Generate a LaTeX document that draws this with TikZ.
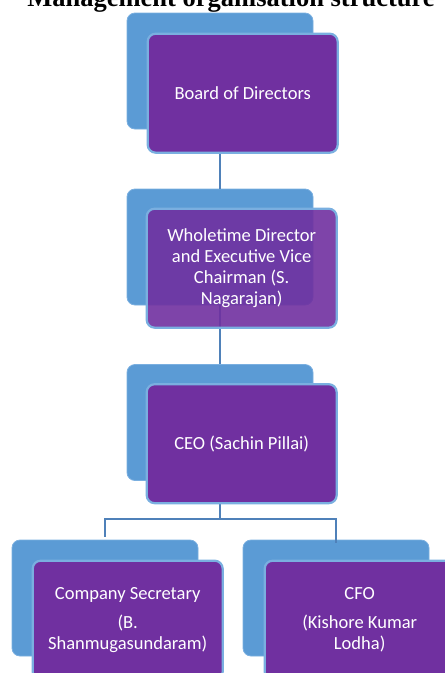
\documentclass[tikz,border=0pt]{standalone}
\usepackage{fontspec}
\setmainfont{Liberation Serif}
\newfontfamily\orgfont{Carlito}
\usepackage{tikz}
\usetikzlibrary{positioning}
\definecolor{oblue}{HTML}{5B9BD5}
\definecolor{oedge}{HTML}{7AAFE0}
\definecolor{opurple}{HTML}{7030A0}
\definecolor{olink}{HTML}{4F81B9}
\tikzset{
  oback/.style={rectangle, rounded corners=8pt, fill=oblue, draw=oedge,
                line width=0.8pt, minimum width=186pt, minimum height=116pt,
                inner sep=0pt},
  ofront/.style={rectangle, rounded corners=8pt, fill=opurple, draw=oedge,
                 line width=2.2pt, minimum width=190pt, minimum height=119pt,
                 inner sep=0pt, align=center, text=white,
                 font=\orgfont\fontsize{18.5}{21}\selectfont, anchor=north west},
  olinkstyle/.style={olink, line width=2.2pt},
  otitle/.style={font=\bfseries\fontsize{26.5}{30}\selectfont, anchor=base},
}
\begin{document}
\begin{tikzpicture}[x=1pt,y=-1pt]
  \useasboundingbox (0,0) rectangle (445,673);

  % ---- title ----
  \node[otitle] (title) at (231,6) {Management organisation structure};

  % ---- back cards ----
  \node[oback] (boardB) at (220,71) {};
  \node[oback] (wtdB) at (220,247) {};
  \node[oback] (ceoB) at (220,422.5) {};
  \node[oback] (csB) at (105,598) {};
  \node[oback] (cfoB) at (336,598) {};

  % ---- links ----
  \draw[olinkstyle] (boardB.south) -- (wtdB.north);
  \draw[olinkstyle] (wtdB.south) -- (ceoB.north);
  \draw[olinkstyle] (ceoB.south) -- ++(0,38) coordinate (fork);
  \draw[olinkstyle] (csB.north) ++(0,-3) |- (fork) -| ([yshift=-3pt]cfoB.north);

  % ---- front cards ----
  \node[ofront] (board) at ([shift={(20,20)}]boardB.north west)
    {Board of Directors};
  \node[ofront, fill opacity=0.9, text opacity=1] (wtd)
    at ([shift={(19,19)}]wtdB.north west)
    {Wholetime Director\\and Executive Vice\\Chairman (S.\\Nagarajan)};
  \node[ofront] (ceo) at ([shift={(19,19)}]ceoB.north west)
    {CEO (Sachin Pillai)};
  \node[ofront] (cs) at ([shift={(20,20)}]csB.north west)
    {Company Secretary\\[8pt](B.\\Shanmugasundaram)};
  \node[ofront] (cfo) at ([shift={(21,20)}]cfoB.north west)
    {CFO\\[8pt](Kishore Kumar\\Lodha)};

\end{tikzpicture}
\end{document}
